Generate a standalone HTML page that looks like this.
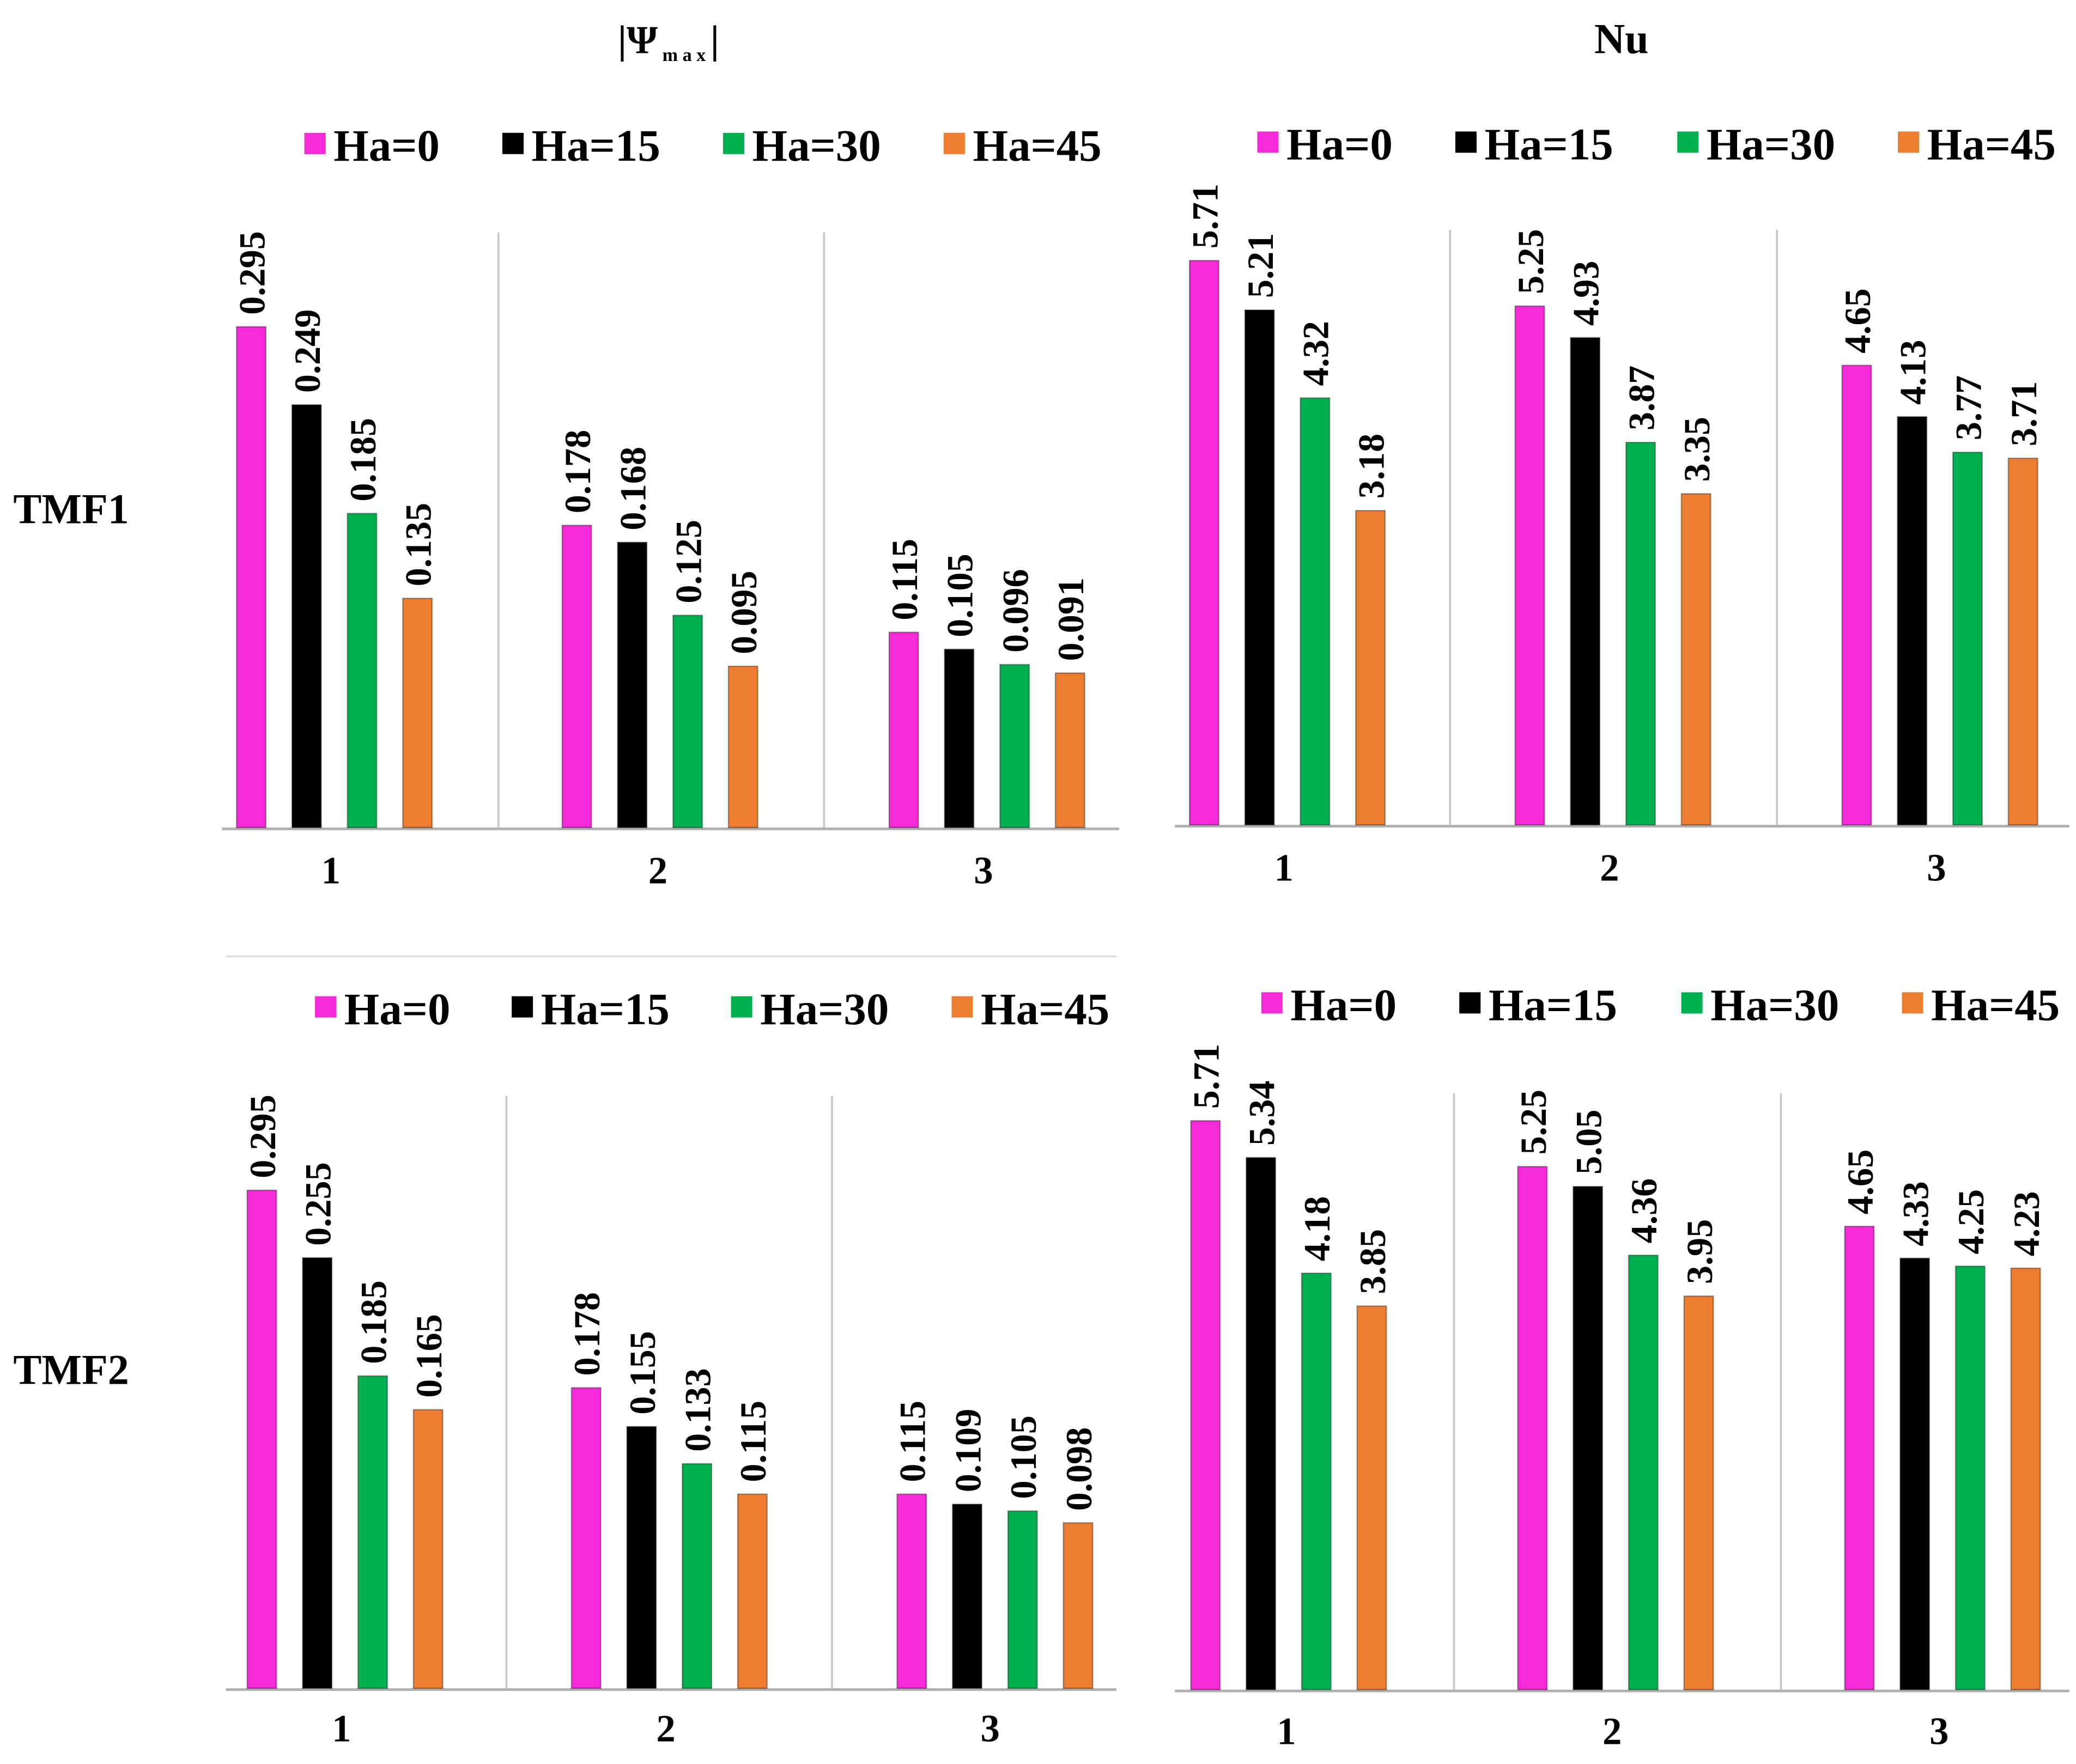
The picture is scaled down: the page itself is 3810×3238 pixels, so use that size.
<!DOCTYPE html>
<html><head><meta charset="utf-8"><style>
html,body{margin:0;padding:0;background:#fff}
svg{display:block}
text{font-family:"Liberation Serif",serif;font-weight:bold;fill:#000}
</style></head><body>
<svg id="chart" width="3810" height="3238" viewBox="0 0 1562 1328" preserveAspectRatio="none" xmlns="http://www.w3.org/2000/svg">
<text x="503" y="40" text-anchor="middle" font-size="30">|Ψ<tspan font-size="14" dy="6"> m a x </tspan><tspan dy="-6">|</tspan></text>
<text x="1220" y="40" text-anchor="middle" font-size="32">Nu</text>
<text x="10" y="394" font-size="32">TMF1</text>
<text x="10" y="1042" font-size="32">TMF2</text>
<line x1="170" y1="720" x2="840" y2="720" stroke="#e0e0e0" stroke-width="1.5"/>
</svg>
<script>
const categories = ["1","2","3"];
const seriesNames = ["Ha=0","Ha=15","Ha=30","Ha=45"];
const colors = ["#f52ad8","#000000","#00b050","#ed7d31"];
const psiTMF1 = [[0.295,0.178,0.115],[0.249,0.168,0.105],[0.185,0.125,0.096],[0.135,0.095,0.091]];
const nuTMF1 = [[5.71,5.25,4.65],[5.21,4.93,4.13],[4.32,3.87,3.77],[3.18,3.35,3.71]];
const psiTMF2 = [[0.295,0.178,0.115],[0.255,0.155,0.109],[0.185,0.133,0.105],[0.165,0.115,0.098]];
const nuTMF2 = [[5.71,5.25,4.65],[5.34,5.05,4.33],[4.18,4.36,4.25],[3.85,3.95,4.23]];

const NS = "http://www.w3.org/2000/svg";
const svg = document.getElementById("chart");
function mk(tag, attrs){const e=document.createElementNS(NS,tag);for(const k in attrs)e.setAttribute(k,attrs[k]);svg.appendChild(e);return e;}

const panels = [
 {name:"psi-tmf1", data:psiTMF1, dec:3, base:623, ax0:167, ax1:842, top:175, scale:1278, gx:[189,434,680], sep:[375,620], lx:[249,495,740], legY:108, legX:[229,378,544,710], labY:665},
 {name:"nu-tmf1", data:nuTMF1, dec:2, base:621, ax0:884, ax1:1557, top:173, scale:74.4, gx:[906,1151,1397], sep:[1091,1337], lx:[966,1211,1457], legY:107, legX:[946,1095,1262,1428], labY:663},
 {name:"psi-tmf2", data:psiTMF2, dec:3, base:1271, ax0:170, ax1:840, top:825, scale:1271, gx:[197,441,686], sep:[381,626], lx:[257,501,745], legY:758, legX:[237,385,550,716], labY:1311},
 {name:"nu-tmf2", data:nuTMF2, dec:2, base:1272, ax0:884, ax1:1557, top:823, scale:75, gx:[907,1153,1399], sep:[1094,1340], lx:[968,1213,1459], legY:755, legX:[949,1098,1265,1431], labY:1313}
];

panels.forEach(p=>{
  const yVal = v => p.base - v*p.scale;
  p.sep.forEach(sx=>{
    const l=mk("line",{x1:sx,y1:p.top,x2:sx,y2:p.base,stroke:"#c8c8c8","stroke-width":1.5});
    
    
  });
  const ax=mk("line",{x1:p.ax0,y1:p.base+1,x2:p.ax1,y2:p.base+1,stroke:"#b0b0b0","stroke-width":2});
  
  
  categories.forEach((c,ci)=>{
    const t=mk("text",{x:p.lx[ci],y:p.labY,"text-anchor":"middle","font-size":29});
    t.textContent=c;
    
    
    p.data.forEach((ser,si)=>{
      const v=ser[ci];
      const cx=p.gx[ci]+si*41.7;
      const y=yVal(v);
      const r=mk("rect",{x:cx-11,y:y,width:22,height:p.base-y,fill:colors[si],stroke:"rgba(0,0,0,0.35)","stroke-width":1});
      
      
      const lt=mk("text",{x:0,y:0,"font-size":28,transform:`translate(${cx+10},${y-9}) rotate(-90)`});
      lt.textContent=v.toFixed(p.dec);
      
      
    });
  });
  seriesNames.forEach((s,si)=>{
    const sq=mk("rect",{x:p.legX[si],y:p.legY-8,width:16,height:16,fill:colors[si]});
    
    
    const lt=mk("text",{x:p.legX[si]+22,y:p.legY+13,"font-size":34});
    lt.textContent=s;
    
    
  });
});
</script>
</body></html>
